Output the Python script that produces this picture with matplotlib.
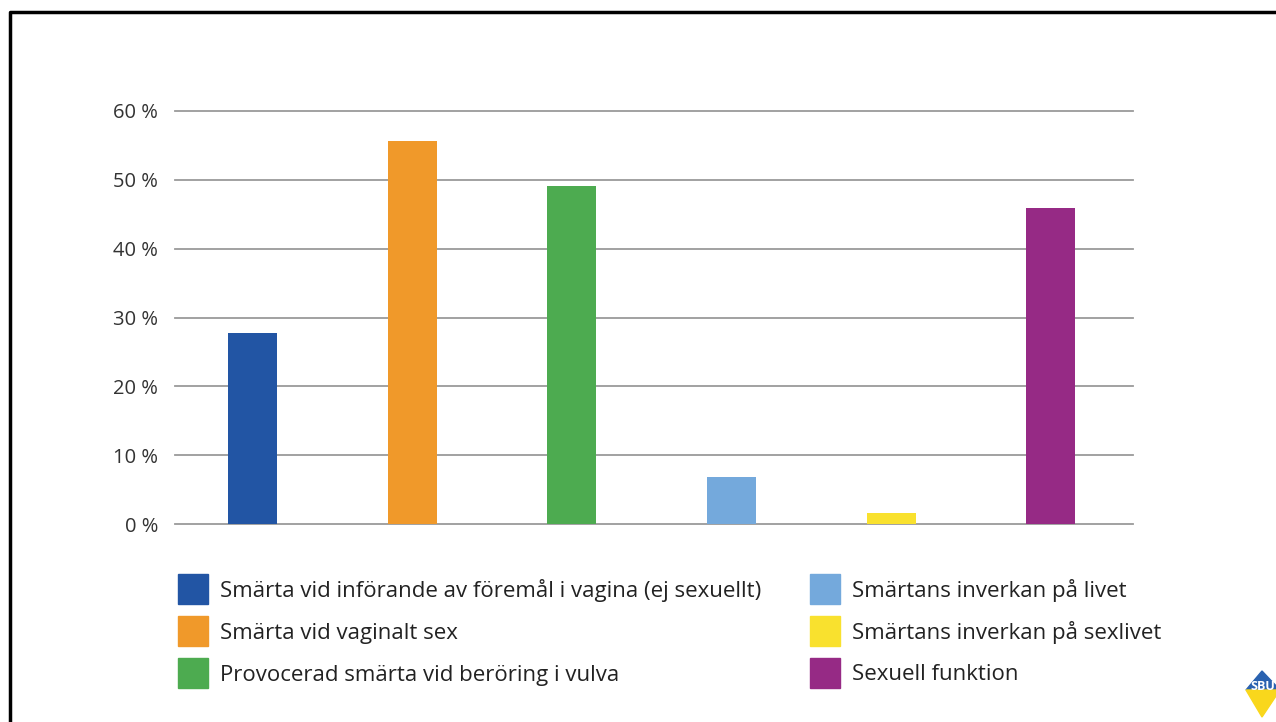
import matplotlib
matplotlib.use("Agg")
import matplotlib.pyplot as plt
from matplotlib.patches import Rectangle, Polygon
from matplotlib.lines import Line2D

labels = [
    "Smärta vid införande av föremål i vagina (ej sexuellt)",
    "Smärta vid vaginalt sex",
    "Provocerad smärta vid beröring i vulva",
    "Smärtans inverkan på livet",
    "Smärtans inverkan på sexlivet",
    "Sexuell funktion",
]
values = [27.8, 55.7, 49.1, 6.8, 1.6, 45.9]
colors = ["#2255a4", "#f0992a", "#4dab50", "#74a9dc", "#f9e12e", "#962a85"]
yticks = [0, 10, 20, 30, 40, 50, 60]

plt.rcParams['font.family'] = ['Open Sans', 'DejaVu Sans']
W, H = 1276, 722
fig = plt.figure(figsize=(W / 100, H / 100), dpi=100)

ax = fig.add_axes([175 / W, 1 - 524 / H, (1133 - 175) / W, (524 - 111) / H])
ax.bar(range(len(values)), values, width=0.307, color=colors, zorder=3)
ax.set_xlim(-0.485, 5.515)
ax.set_ylim(0, 60)
ax.set_yticks(yticks)
ax.set_yticklabels([f"{t} %" for t in yticks], fontsize=14.5, color="#333333")
ax.set_xticks([])
ax.tick_params(axis="y", length=0, pad=12)
for t in yticks:
    ax.axhline(t, color="#9a9a9a", lw=1.3, zorder=1, clip_on=False)
for s in ax.spines.values():
    s.set_visible(False)

# legend, two columns of three
for i, (lab, col) in enumerate(zip(labels, colors)):
    cx = 178 if i < 3 else 810
    cy = 589 + 42 * (i % 3)
    fig.patches.append(Rectangle((cx / W, 1 - (cy + 15) / H), 30 / W, 30 / H,
                                 transform=fig.transFigure, color=col))
    fig.text((cx + 42) / W, 1 - (cy + 2) / H, lab, fontsize=16, color="#222222",
             va="center", ha="left")

# frame (left and top edges)
fig.lines.append(Line2D([10 / W, 10 / W, 1], [0, 1 - 12 / H, 1 - 12 / H],
                        transform=fig.transFigure, color="black", lw=2.5))

# small logo bottom right
fig.patches.append(Polygon([(1262 / W, 1 - 671 / H), (1280 / W, 1 - 690 / H),
                            (1246 / W, 1 - 690 / H)], closed=True,
                           transform=fig.transFigure, color="#2a62b0"))
fig.patches.append(Polygon([(1246 / W, 1 - 690 / H), (1280 / W, 1 - 690 / H),
                            (1262 / W, 1 - 717 / H)], closed=True,
                           transform=fig.transFigure, color="#f9d71c"))
fig.text(1263 / W, 1 - 686 / H, "SBU", fontsize=9, fontweight="bold",
         color="white", ha="center", va="center")

fig.savefig("out.png", dpi=100, facecolor="white")
